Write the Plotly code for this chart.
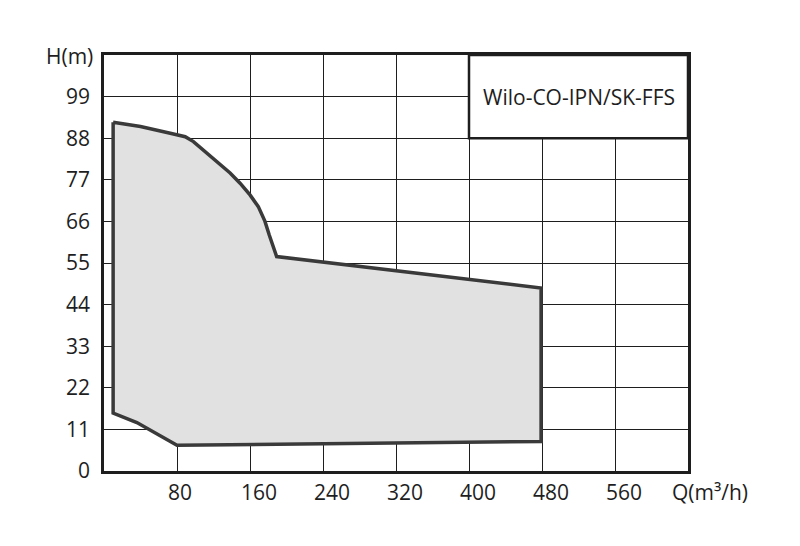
import plotly.graph_objects as go

# operating range outline of the booster set (Q in m3/h, H in m)
q_outline = [10, 40, 72.6, 89, 98, 109, 123.6, 138.2, 149.1, 160, 169.1, 176.4, 181.1, 185.5, 189.2,
             479, 479, 80, 51, 36, 10, 10]
h_outline = [92.2, 91.1, 89.3, 88.4, 87.1, 84.9, 81.8, 78.8, 76.1, 73.0, 69.9, 66.0, 62.4, 58.9, 56.7,
             48.4, 7.8, 6.8, 10.9, 12.8, 15.3, 92.2]

q_ticks = [80, 160, 240, 320, 400, 480, 560]
h_ticks = [0, 11, 22, 33, 44, 55, 66, 77, 88, 99]
series_name = "Wilo-CO-IPN/SK-FFS"

font_family = "Open Sans"
ink = "#1e1e1e"

fig = go.Figure()

fig.add_trace(go.Scatter(
    x=q_outline,
    y=h_outline,
    mode="lines",
    fill="toself",
    fillcolor="#e1e1e1",
    line=dict(color="#3a3a3a", width=3.5),
    hoverinfo="skip",
    showlegend=False,
))

# name box in the top right corner
fig.add_shape(
    type="rect", xref="x", yref="y",
    x0=400, x1=640, y0=88, y1=110,
    fillcolor="white", line=dict(color=ink, width=2.5), layer="above",
)
fig.add_annotation(
    x=521, y=99, xref="x", yref="y", text=series_name, showarrow=False,
    font=dict(family=font_family, size=21, color=ink),
)

# x tick labels sit a bit to the right of their grid line
for q in q_ticks:
    fig.add_annotation(
        x=q, y=0, xref="x", yref="y", text=str(q), showarrow=False,
        xanchor="left", yanchor="middle", xshift=-11, yshift=-21,
        font=dict(family=font_family, size=21, color=ink),
    )

fig.add_annotation(
    x=640, y=0, xref="x", yref="y", text="Q(m³/h)", showarrow=False,
    xanchor="left", yanchor="middle", xshift=-18, yshift=-21,
    font=dict(family=font_family, size=21, color=ink),
)
fig.add_annotation(
    x=0, y=110, xref="x", yref="y", text="H(m)", showarrow=False,
    xanchor="right", yanchor="middle", xshift=-9, yshift=-1,
    font=dict(family=font_family, size=21, color=ink),
)

fig.update_xaxes(
    range=[0, 640], tickvals=q_ticks, showticklabels=False, ticks="",
    showgrid=True, gridcolor=ink, gridwidth=1.3,
    showline=True, linecolor=ink, linewidth=2.5, mirror=True,
    zeroline=False, fixedrange=True,
)
fig.update_yaxes(
    range=[0, 110], tickvals=h_ticks, ticks="", ticklabelstandoff=7,
    tickfont=dict(family=font_family, size=21, color=ink),
    showgrid=True, gridcolor=ink, gridwidth=1.3,
    showline=True, linecolor=ink, linewidth=2.5, mirror=True,
    zeroline=False, fixedrange=True,
)

# page body adds ~8px offset, so margins are shifted to keep the plot box in place
fig.update_layout(
    width=800, height=546,
    margin=dict(l=96, r=120, t=47, b=83),
    paper_bgcolor="white", plot_bgcolor="white",
    font=dict(family=font_family, color=ink),
    showlegend=False,
)

fig.write_html("out.html")
